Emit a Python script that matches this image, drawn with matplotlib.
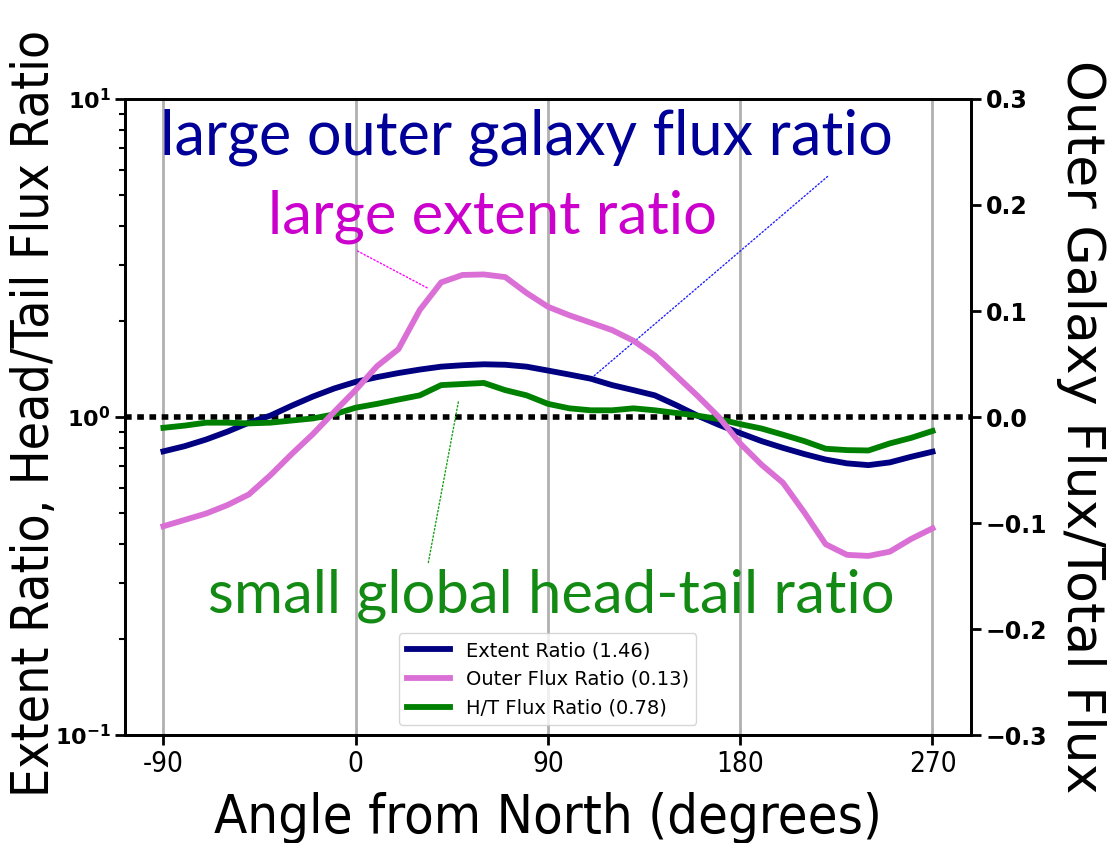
import numpy as np
import matplotlib
matplotlib.use('Agg')
import matplotlib.pyplot as plt

# position angle (degrees from north), sampled every 10 deg
angle = [-90, -80, -70, -60, -50, -40, -30, -20, -10, 0, 10, 20, 30, 40, 50, 60, 70, 80, 90,
         100, 110, 120, 130, 140, 150, 160, 170, 180, 190, 200, 210, 220, 230, 240, 250, 260, 270]

extent_ratio = [0.78, 0.81, 0.85, 0.90, 0.96, 1.01, 1.085, 1.16, 1.23, 1.29, 1.335, 1.375, 1.41,
                1.44, 1.455, 1.465, 1.46, 1.44, 1.40, 1.36, 1.32, 1.26, 1.215, 1.17, 1.09, 1.01,
                0.945, 0.89, 0.84, 0.80, 0.765, 0.735, 0.715, 0.706, 0.72, 0.75, 0.778]

ht_flux_ratio = [0.925, 0.94, 0.96, 0.96, 0.955, 0.96, 0.975, 0.99, 1.02, 1.07, 1.10, 1.135, 1.17,
                 1.26, 1.27, 1.28, 1.215, 1.17, 1.10, 1.065, 1.05, 1.05, 1.065, 1.05, 1.03, 1.01,
                 0.985, 0.95, 0.92, 0.88, 0.84, 0.795, 0.787, 0.785, 0.826, 0.86, 0.904]

outer_flux_ratio = [-0.103, -0.097, -0.091, -0.083, -0.073, -0.055, -0.035, -0.016, 0.005, 0.0255,
                    0.048, 0.064, 0.101, 0.127, 0.134, 0.1345, 0.132, 0.117, 0.104, 0.096, 0.089,
                    0.082, 0.072, 0.058, 0.039, 0.020, 0.0, -0.025, -0.045, -0.062, -0.09, -0.120,
                    -0.130, -0.131, -0.127, -0.115, -0.105]

xticks = [-90, 0, 90, 180, 270]
rticks = [-0.3, -0.2, -0.1, 0.0, 0.1, 0.2, 0.3]

fig = plt.figure(figsize=(11.07, 8.43), dpi=100)
ax1 = fig.add_axes([0.1129, 0.128, 0.7642, 0.7546])
ax2 = ax1.twinx()

ax1.set_yscale('log')
ax1.set_ylim(0.1, 10)
ax2.set_ylim(-0.3, 0.3)

ax1.xaxis.set_ticks(xticks)
ax1.set_xticklabels([str(x) for x in xticks])
ax1.grid(axis='x', color='#b0b0b0', linewidth=2)
ax1.axhline(1.0, color='black', linestyle=(0, (1.2, 1.0)), linewidth=4)

l1, = ax1.plot(angle, extent_ratio, '-', color='#000080', lw=4.2, label='Extent Ratio (1.46)')
l2, = ax2.plot(angle, outer_flux_ratio, '-', color='orchid', lw=4.2, label='Outer Flux Ratio (0.13)')
l3, = ax1.plot(angle, ht_flux_ratio, '-', color='#008000', lw=4.2, label='H/T Flux Ratio (0.78)')

ax2.yaxis.set_ticks(rticks)
ax2.set_yticklabels(['\u22120.3', '\u22120.2', '\u22120.1', '0.0', '0.1', '0.2', '0.3'])

for ax in (ax1, ax2):
    for sp in ax.spines.values():
        sp.set_linewidth(2)
    ax.tick_params(which='major', length=7, width=2)
    ax.tick_params(which='minor', length=4, width=1.5)
ax1.tick_params(axis='y', labelsize=16)
ax2.tick_params(axis='y', labelsize=17)
for lab in ax1.get_yticklabels() + ax2.get_yticklabels():
    lab.set_fontweight('bold')
for lab in ax1.get_xticklabels():
    lab.set_fontstretch('condensed')
    lab.set_fontsize(20)

ax1.set_xlabel('Angle from North (degrees)', fontsize=39, fontstretch='condensed')
ax1.xaxis.set_label_coords(0.5, -0.09)
ax1.set_ylabel('Extent Ratio, Head/Tail Flux Ratio', fontsize=37, fontstretch='condensed')
ax1.yaxis.set_label_coords(-0.077, 0.505)
ax2.set_ylabel('Outer Galaxy Flux/Total Flux', fontsize=37.5, rotation=270, va='center')
ax2.yaxis.set_label_coords(1.13, 0.484)

leg = ax1.legend(handles=[l1, l2, l3], loc='lower center', fontsize=14, handlelength=2.2,
                 framealpha=0.8)

# callouts
call_font = 'Lato'
ax1.text(0.475, 0.912, 'large outer galaxy flux ratio', transform=ax1.transAxes, ha='center',
         va='baseline', fontsize=44, color='#000099', family=call_font)
ax1.text(0.435, 0.789, 'large extent ratio', transform=ax1.transAxes, ha='center',
         va='baseline', fontsize=43, color='#cc00cc', family=call_font)
ax1.text(0.504, 0.193, 'small global head-tail ratio', transform=ax1.transAxes, ha='center',
         va='baseline', fontsize=43, color='#138a13', family=call_font)

ax1.annotate('', xy=(110.4, 1.326), xytext=(0.833, 0.881), textcoords='axes fraction',
             arrowprops=dict(arrowstyle='-', linestyle=':', lw=1, color='#2020ff'))
ax2.annotate('', xy=(35.2, 0.12), xytext=(0.272, 0.763), textcoords='axes fraction',
             arrowprops=dict(arrowstyle='-', linestyle=':', lw=1, color='#ff00ff'))
ax1.annotate('', xy=(48.4, 1.148), xytext=(0.358, 0.267), textcoords='axes fraction',
             arrowprops=dict(arrowstyle='-', linestyle=':', lw=1, color='#10a010'))

plt.savefig('out.png', dpi=100)
